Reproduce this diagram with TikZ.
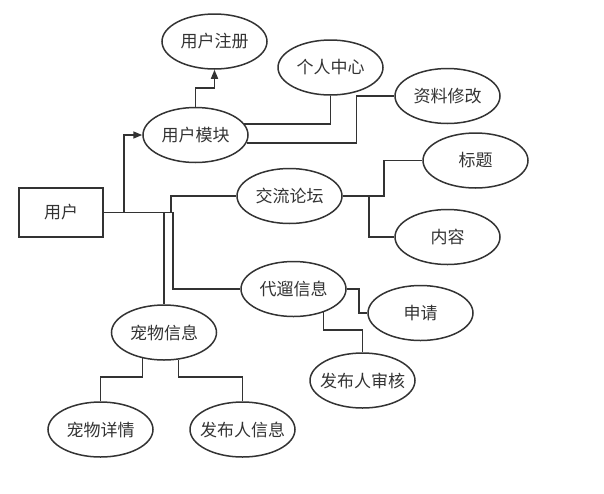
\documentclass[tikz,border=0pt]{standalone}
\usepackage{fontspec}
\setmainfont{Noto Sans CJK SC}
\usetikzlibrary{shapes.geometric,arrows.meta}
\definecolor{ln}{HTML}{333333}
\definecolor{tx}{HTML}{333333}
\begin{document}
\begin{tikzpicture}[x=1pt,y=-1pt,
  ell/.style={ellipse,draw=ln,line width=1.5pt,minimum width=105pt,minimum height=55pt,inner xsep=-10pt,inner ysep=0pt,text=tx,font=\fontsize{17}{17}\selectfont},
  box/.style={rectangle,draw=ln,line width=1.5pt,minimum width=84pt,minimum height=49pt,inner sep=0pt,text=tx,font=\fontsize{17}{17}\selectfont},
  conn/.style={draw=ln,line width=1.6pt},
  arr/.style={conn,-{Triangle[length=9pt,width=7pt]}}]
\useasboundingbox (0,0) rectangle (604,493);
\node[box] (u) at (61,212.5) {用户};
\node[ell] (zc) at (214.5,41.5) {用户注册};
\node[ell] (um) at (195.5,135) {用户模块};
\node[ell] (gr) at (330.5,67.5) {个人中心};
\node[ell] (zl) at (447.5,96) {资料修改};
\node[ell] (jl) at (289.5,196) {交流论坛};
\node[ell] (bt) at (475.5,160.5) {标题};
\node[ell] (nr) at (447.5,237) {内容};
\node[ell] (dl) at (293.5,289) {代遛信息};
\node[ell] (sq) at (420.5,313) {申请};
\node[ell] (sh) at (362.5,380.5) {发布人审核};
\node[ell] (cw) at (164,332.5) {宠物信息};
\node[ell] (xq) at (100.5,429.5) {宠物详情};
\node[ell] (fb) at (242.5,429.5) {发布人信息};
% connectors
\draw[arr] (u.east) -- ++(20,0) |- (um.west);
\draw[conn] (u.east) -- ++(67,0) |- (jl.west);
\draw[conn] (u.east) -| (cw.north);
\draw[conn] (u.east) -- ++(69,0) |- (dl.west);
\draw[arr] (um.north) -- ++(0,-19) -| (zc.south);
\draw[conn] (um.13) -| (gr.south);
\draw[conn] (um.-9) -- ++(110,0) |- (zl.west);
\draw[conn] (jl.east) -- ++(41,0) |- (bt.west);
\draw[conn] (jl.east) -- ++(26,0) |- (nr.west);
\draw[conn] (dl.east) -- ++(12,0) |- (sq.west);
\draw[conn] (dl.-38) |- ([yshift=22pt]sh.north) -- (sh.north);
\draw[conn] (cw.230) |- ([yshift=24pt]xq.north) -- (xq.north);
\draw[conn] (cw.-62) |- ([yshift=24pt]fb.north) -- (fb.north);
\end{tikzpicture}
\end{document}
